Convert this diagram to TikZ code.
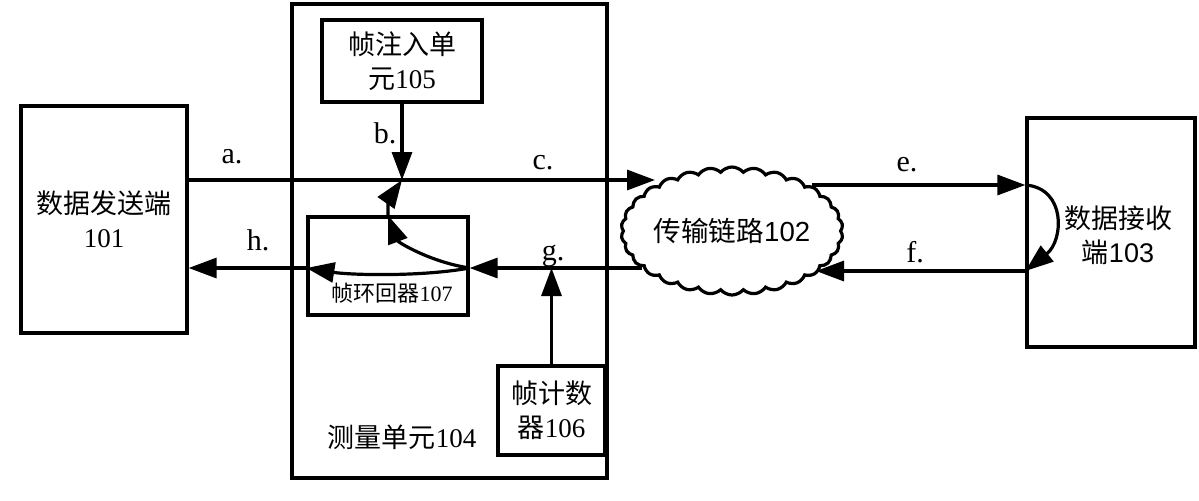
\documentclass[tikz,border=0pt]{standalone}
\usepackage{fontspec}
\setmainfont{Liberation Serif}
\newfontfamily\cjk{Noto Sans CJK SC}
\newfontfamily\arialf{Liberation Sans}
\usetikzlibrary{arrows.meta,shapes.symbols}
\begin{document}
\begin{tikzpicture}[x=0.5pt,y=-0.5pt,
  box/.style={draw,line width=1.6pt,inner sep=0pt,align=center},
  conn/.style={line width=1.6pt,-{Triangle[length=14pt,width=10pt]}},
  lbl/.style={font=\fontsize{15}{18}\selectfont,inner sep=0pt},
  txt/.style={font=\fontsize{13.5}{17}\selectfont}]
\useasboundingbox (0,0) rectangle (1199,500);
% boxes
\node[box,txt,minimum width=83pt,minimum height=113.5pt] (snd) at (104,219.5) {{\cjk 数据发送端}\\101};
\node[box,minimum width=157.5pt,minimum height=237pt] (mu) at (449.5,241) {};
\node[txt,inner sep=0pt] (mul) at (402,437) {{\cjk 测量单元}104};
\node[box,txt,minimum width=80pt,minimum height=41pt] (inj) at (402,61) {{\cjk 帧注入单}\\{\cjk 元}105};
\node[box,minimum width=80pt,minimum height=49pt] (lb) at (388,266) {};
\node[font=\fontsize{11}{13}\selectfont,inner sep=0pt] (lbt) at (392,293) {{\cjk 帧环回器}107};
\node[box,txt,minimum width=53.5pt,minimum height=44.5pt] (ctr) at (551.5,410.5) {{\cjk 帧计数}\\{\cjk 器}106};
\node[cloud,draw,line width=1.6pt,cloud puffs=30,cloud puff arc=100,cloud ignores aspect,
      minimum width=103pt,minimum height=64pt,inner sep=0pt,font=\fontsize{13.8}{17}\selectfont] (cl) at (732,231) {{\cjk 传输链路}\arialf 102};
\node[box,minimum width=84pt,minimum height=114.5pt] (rcv) at (1111,232.5) {};
\node[txt,align=center,inner sep=0pt] (rcvt) at (1118,235) {{\cjk 数据接收}\\{\cjk 端}\arialf 103};
% coordinates
\coordinate (ja) at (402,180);
\coordinate (ca) at (655,180);
\coordinate (ce) at (812,185);
\coordinate (cf) at (816,271);
\coordinate (cg) at (642,268);
\coordinate (jg) at (lb.east |- cg);
\coordinate (re) at (rcv.west |- ce);
\coordinate (rf) at (rcv.west |- cf);
% connectors
\draw[conn] (snd.east |- ja) -- (ca);
\draw[conn] (inj.south) -- (inj.south |- ja);
\draw[conn] (ce) -- (re);
\draw[conn] (re) .. controls (1066,188) and (1064,240) .. (rf);
\draw[conn] (rf) -- (cf);
\draw[conn] (cg) -- (jg);
\draw[conn] (jg) .. controls (420,277) and (350,275) .. (lb.west |- jg);
\draw[conn] (lb.west |- jg) -- (snd.east |- jg);
\draw[conn] (jg) .. controls (430,262) and (398,242) .. (lb.north);
\draw[conn] (lb.north) .. controls (388,200) .. (ja);
\draw[conn] (ctr.north) -- (ctr.north |- cg);
% labels
\node[lbl] (la) at (232,157) {a.};
\node[lbl] (lbb) at (385,133) {b.};
\node[lbl] (lc) at (543,163) {c.};
\node[lbl] (le) at (907,165) {e.};
\node[lbl] (lf) at (915,252) {f.};
\node[lbl] (lg) at (553,256) {g.};
\node[lbl] (lh) at (258,240) {h.};
\end{tikzpicture}
\end{document}
